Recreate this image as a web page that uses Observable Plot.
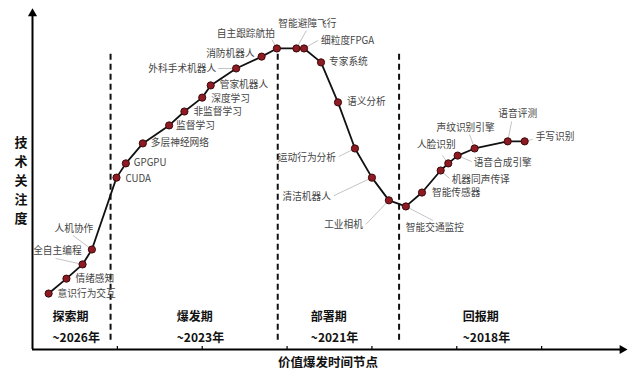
<!DOCTYPE html>
<html><head><meta charset="utf-8">
<script src="https://cdn.jsdelivr.net/npm/d3@7"></script>
<script src="https://cdn.jsdelivr.net/npm/@observablehq/plot@0.6"></script>
<style>
body{margin:0;background:#fff;}
#chart{position:relative;width:637px;height:378px;}
</style>
</head><body><div id="chart"></div>
<script>
// ---- data ----
const techNames = ["意识行为交互","情绪感知","全自主编程","人机协作","CUDA","GPGPU","多层神经网络","监督学习","非监督学习","深度学习","管家机器人","外科手术机器人","消防机器人","自主跟踪航拍","智能避障飞行","细粒度FPGA","专家系统","语义分析","运动行为分析","清洁机器人","工业相机","智能交通监控","智能传感器","机器同声传译","人脸识别","语音合成引擎","声纹识别引擎","语音评测","手写识别"];
const timeValues = [0.19,0.40,0.59,0.70,0.99,1.10,1.30,1.61,1.79,2.00,2.10,2.40,2.70,2.88,3.11,3.20,3.40,3.60,3.80,4.00,4.20,4.40,4.59,4.81,4.90,5.01,5.21,5.60,5.80];
const attention = [16.5,20.9,25.1,29.5,50.7,54.9,60.8,66.1,70.2,74.3,77.9,82.9,86.4,88.8,88.8,88.8,84.7,72.9,59.3,50.7,44.0,42.2,46.3,52.8,54.9,57.2,59.3,61.4,61.4];
const phaseNames = ["探索期","爆发期","部署期","回报期"];
const phaseYears = ["~2026年","~2023年","~2021年","~2018年"];
const phaseStart = [0.236,1.70,3.28,5.07];
const phaseBounds = [0.92,2.89,4.32];
const xTicks = [1,2,3,4,5,6];

// ---- label layout (pixel offsets from each point) ----
// [ox, oy, anchor, lx, ly]  (lx,ly = leader end, null = none)
const labelLayout = [
 [9,0,"start",null,null],[9,0,"start",null,null],[-1,-14,"end",-27,-6],[-18,-21,"middle",-19,-14],
 [9,1,"start",null,null],[8,0,"start",null,null],[8,0,"start",null,null],[7,0,"start",null,null],
 [9,0,"start",null,null],[9,1,"start",null,null],[9,-1,"start",null,null],[-20,0,"end",-18,0],
 [-7,-3,"end",null,null],[-2,-15,"end",-5,-9],[11,-25,"middle",10,-18],[17,-8,"start",14,-8],
 [8,0,"start",null,null],[9,0,"start",null,null],[-19,9,"end",-16,8],[-41,19,"end",-38,18],
 [-26,25,"end",-23,24],[0,21,"start",27,14],[10,0,"start",null,null],[11,9,"start",9,8],
 [-12,-18,"middle",-6,-8],[16,7,"start",14,6],[-9,-21,"middle",-5,-14],[10,-27,"middle",4,-20],
 [11,-4,"start",8,-2]
];

const W = 637, H = 378, mL = 32, mR = 11, mT = 10, mB = 29;
const xDom = [0,7], yDom = [0,100];
const kx = (W - mL - mR) / (xDom[1]-xDom[0]);
const ky = (H - mT - mB) / (yDom[1]-yDom[0]);

const pts = techNames.map((n,i)=>({name:n, x:timeValues[i], y:attention[i]}));
const labels = pts.map((p,i)=>{
  const [ox,oy,anchor,lx,ly] = labelLayout[i];
  return {name:p.name, x:p.x + ox/kx, y:p.y - oy/ky, anchor, px:p.x, py:p.y,
          lx: lx==null?null:p.x + lx/kx, ly: ly==null?null:p.y - ly/ky};
});
const leaders = labels.filter(d=>d.lx!=null);
const phases = phaseNames.map((n,i)=>({name:n, year:phaseYears[i], x:phaseStart[i]}));

const font = "'Noto Sans CJK SC','Noto Sans',sans-serif";
const labelColor = "#454545";

const plot = Plot.plot({
  width: W, height: H,
  marginLeft: mL, marginRight: mR, marginTop: mT, marginBottom: mB,
  style: {fontFamily: font, background: "#fff", overflow: "visible"},
  x: {domain: xDom, axis: null},
  y: {domain: yDom, axis: null},
  marks: [
    Plot.ruleX(phaseBounds, {x: d=>d, y1: 2.7, y2: 88.2, stroke: "#111", strokeWidth: 2, strokeDasharray: "6,4"}),
    Plot.ruleX([0], {y1: 0, y2: 99, stroke: "#000", strokeWidth: 2}),
    Plot.ruleY([0], {x1: 0, x2: 6.93, stroke: "#000", strokeWidth: 2}),
    Plot.ruleX(xTicks, {x: d=>d, y1: 0, y2: 0.9, stroke: "#000", strokeWidth: 1.2}),
    Plot.dot([{x:0,y:99.1}], {x:"x", y:"y", symbol:"triangle", r:3.4, fill:"#000", stroke:"none"}),
    Plot.dot([{x:6.95,y:0}], {x:"x", y:"y", symbol:"triangle", r:3.4, fill:"#000", stroke:"none", rotate:90}),
    Plot.link(leaders, {x1:"px", y1:"py", x2:"lx", y2:"ly", stroke:"#c4c4c4", strokeWidth:1}),
    Plot.line(pts, {x:"x", y:"y", stroke:"#111", strokeWidth:1.8}),
    Plot.dot(pts, {x:"x", y:"y", r:3.6, fill:"#8e1a24", stroke:"#3b0b0b", strokeWidth:1}),
    ...["start","middle","end"].map(a => Plot.text(labels.filter(d=>d.anchor===a), {
      x:"x", y:"y", text:"name", textAnchor:a, fontSize:9.7, fill:labelColor})),
    Plot.text(phases, {x:"x", y:9.4, text:"name", textAnchor:"start", fontSize:12, fontWeight:"bold", fill:"#111"}),
    Plot.text(phases, {x:"x", y:3.2, text:"year", textAnchor:"start", fontSize:12, fontWeight:"bold", fill:"#111"}),
  ]
});

const chart = document.getElementById("chart");
chart.appendChild(plot);

const svg = d3.select(plot);
const yt = svg.append("text").attr("x", 21).attr("y", 142)
  .attr("font-family", font).attr("font-size", 13).attr("font-weight", "bold")
  .attr("fill", "#111").attr("text-anchor", "middle");
"技术关注度".split("").forEach((c,i)=>{
  yt.append("tspan").attr("x", 21).attr("dy", i===0 ? "0.35em" : 19).text(c);
});
svg.append("text").attr("x", 328).attr("y", 363).attr("dy","0.35em")
  .attr("font-family", font).attr("font-size", 12.5).attr("font-weight", "bold")
  .attr("fill", "#111").attr("text-anchor", "middle").text("价值爆发时间节点");
</script>
</body></html>
